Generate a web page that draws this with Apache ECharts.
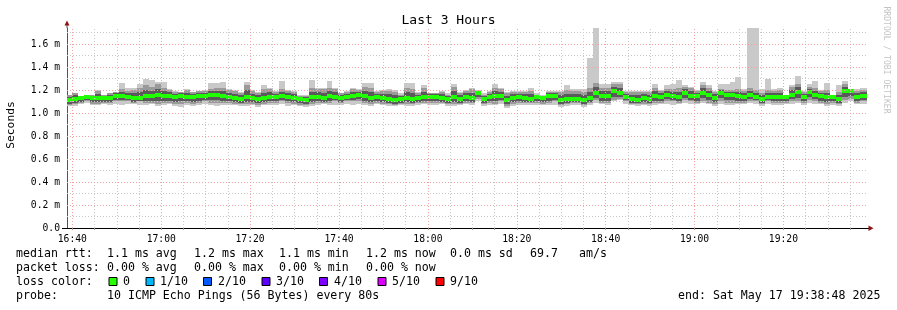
<!DOCTYPE html>
<html><head><meta charset="utf-8">
<script src="https://cdn.jsdelivr.net/npm/echarts@6/dist/echarts.min.js"></script>
<style>html,body{margin:0;padding:0;background:#fff}#c{width:897px;height:310px}</style>
</head><body><div id="c"></div>
<script>
// ---- data (milliseconds RTT, one column per 80 s step, start 16:38:48) ----
const startMin = 16*60 + 38.8;          // 16:38:48 in minutes since midnight
const endMin = 19*60 + 38.8;            // 19:38:48
const stepMin = 80/60;                  // 80 s probe step
const med = [
1.11,1.12,1.13,1.14,1.13,1.13,1.13,1.13,1.15,1.15,
1.14,1.13,1.13,1.15,1.15,1.16,1.15,1.15,1.14,1.15,
1.14,1.14,1.15,1.15,1.16,1.16,1.15,1.14,1.13,1.12,
1.14,1.13,1.12,1.13,1.14,1.14,1.15,1.14,1.13,1.12,
1.11,1.14,1.14,1.13,1.15,1.14,1.13,1.14,1.15,1.16,
1.15,1.13,1.14,1.13,1.12,1.11,1.12,1.13,1.12,1.13,
1.14,1.14,1.14,1.13,1.12,1.14,1.12,1.14,1.13,1.17,
1.12,1.14,1.15,1.15,1.11,1.13,1.14,1.13,1.12,1.14,
1.13,1.15,1.15,1.11,1.12,1.12,1.12,1.11,1.13,1.17,
1.15,1.15,1.19,1.17,1.14,1.12,1.11,1.13,1.12,1.15,
1.14,1.16,1.15,1.14,1.17,1.15,1.15,1.17,1.16,1.13,
1.17,1.16,1.16,1.15,1.14,1.16,1.14,1.12,1.14,1.14,
1.14,1.14,1.16,1.18,1.14,1.18,1.16,1.15,1.14,1.14,
1.12,1.19,1.19,1.14,1.15,1.15];
const lo = [
1.06,1.06,1.08,1.09,1.07,1.07,1.08,1.07,1.08,1.07,
1.08,1.08,1.07,1.07,1.08,1.06,1.07,1.08,1.06,1.05,
1.07,1.06,1.07,1.08,1.07,1.06,1.07,1.07,1.07,1.06,
1.06,1.07,1.05,1.07,1.07,1.07,1.08,1.06,1.07,1.06,
1.05,1.06,1.07,1.08,1.07,1.07,1.07,1.08,1.07,1.08,
1.07,1.06,1.08,1.07,1.06,1.06,1.07,1.06,1.06,1.07,
1.08,1.07,1.07,1.08,1.06,1.06,1.07,1.08,1.07,1.10,
1.06,1.07,1.07,1.08,1.04,1.06,1.07,1.07,1.07,1.07,
1.07,1.07,1.07,1.05,1.06,1.07,1.07,1.05,1.07,1.09,
1.08,1.07,1.10,1.11,1.08,1.07,1.06,1.07,1.06,1.07,
1.08,1.08,1.07,1.08,1.09,1.08,1.08,1.09,1.08,1.06,
1.08,1.07,1.07,1.08,1.08,1.09,1.08,1.06,1.08,1.07,
1.07,1.08,1.08,1.09,1.07,1.09,1.08,1.08,1.06,1.07,
1.06,1.09,1.10,1.08,1.08,1.08];
const hi = [
1.16,1.17,1.15,1.15,1.16,1.20,1.16,1.17,1.18,1.26,
1.22,1.22,1.25,1.30,1.29,1.27,1.27,1.21,1.19,1.18,
1.21,1.18,1.19,1.20,1.26,1.26,1.27,1.21,1.20,1.18,
1.27,1.20,1.18,1.24,1.22,1.19,1.28,1.20,1.19,1.16,
1.16,1.29,1.22,1.22,1.28,1.22,1.17,1.19,1.22,1.21,
1.26,1.26,1.19,1.20,1.21,1.20,1.17,1.26,1.26,1.18,
1.24,1.17,1.17,1.19,1.17,1.25,1.18,1.20,1.22,1.20,
1.17,1.19,1.25,1.22,1.18,1.19,1.19,1.19,1.22,1.17,
1.16,1.19,1.19,1.19,1.24,1.21,1.21,1.21,1.48,1.76,
1.25,1.25,1.27,1.27,1.19,1.19,1.19,1.19,1.19,1.25,
1.20,1.24,1.25,1.29,1.24,1.23,1.20,1.27,1.24,1.19,
1.25,1.25,1.27,1.31,1.21,1.76,1.76,1.21,1.30,1.21,
1.22,1.15,1.24,1.32,1.19,1.25,1.28,1.20,1.26,1.16,
1.24,1.28,1.21,1.21,1.22,1.22];
const dlo = [
1.07,1.08,1.09,1.10,1.08,1.08,1.09,1.09,1.10,1.10,
1.10,1.09,1.10,1.09,1.09,1.08,1.09,1.09,1.08,1.08,
1.09,1.08,1.09,1.10,1.09,1.09,1.09,1.09,1.08,1.08,
1.08,1.08,1.07,1.08,1.09,1.09,1.10,1.09,1.08,1.07,
1.07,1.08,1.09,1.09,1.09,1.10,1.09,1.10,1.10,1.10,
1.09,1.08,1.09,1.08,1.08,1.07,1.08,1.08,1.08,1.09,
1.09,1.09,1.09,1.09,1.08,1.08,1.08,1.09,1.09,1.12,
1.08,1.09,1.08,1.10,1.06,1.08,1.09,1.09,1.09,1.09,
1.08,1.09,1.10,1.07,1.08,1.09,1.09,1.07,1.09,1.11,
1.09,1.09,1.11,1.12,1.10,1.08,1.08,1.08,1.08,1.09,
1.09,1.10,1.10,1.09,1.11,1.10,1.09,1.10,1.09,1.08,
1.10,1.09,1.09,1.09,1.09,1.10,1.10,1.08,1.10,1.09,
1.09,1.09,1.10,1.10,1.09,1.11,1.10,1.09,1.08,1.09,
1.08,1.11,1.12,1.09,1.10,1.10];
const dhi = [
1.16,1.17,1.15,1.15,1.16,1.19,1.16,1.17,1.18,1.21,
1.19,1.20,1.22,1.24,1.23,1.25,1.22,1.20,1.18,1.18,
1.20,1.18,1.19,1.19,1.21,1.22,1.22,1.20,1.19,1.17,
1.24,1.19,1.17,1.21,1.21,1.18,1.21,1.19,1.18,1.15,
1.15,1.22,1.21,1.21,1.22,1.21,1.17,1.18,1.21,1.20,
1.23,1.22,1.18,1.19,1.19,1.18,1.16,1.22,1.21,1.17,
1.22,1.17,1.17,1.18,1.16,1.23,1.17,1.19,1.21,1.19,
1.16,1.18,1.22,1.21,1.17,1.18,1.18,1.18,1.19,1.16,
1.15,1.18,1.18,1.18,1.20,1.19,1.19,1.18,1.22,1.26,
1.22,1.22,1.25,1.25,1.18,1.18,1.18,1.18,1.18,1.22,
1.19,1.21,1.21,1.22,1.23,1.22,1.19,1.24,1.22,1.18,
1.21,1.20,1.20,1.21,1.19,1.22,1.20,1.17,1.20,1.19,
1.20,1.15,1.23,1.25,1.18,1.23,1.22,1.19,1.20,1.15,
1.18,1.25,1.21,1.19,1.20,1.20];
const yTicks = [0,0.2,0.4,0.6,0.8,1.0,1.2,1.4,1.6];
const yMinor = [0.1,0.3,0.5,0.7,0.9,1.1,1.3,1.5,1.7];
const xMajor = [1000,1020,1040,1060,1080,1100,1120,1140,1160]; // 16:40 .. 19:20
const xMinor = [];
for (let m = 1005; m <= 1175; m += 5) if (m % 20 !== 0) xMinor.push(m);
const xTickAll = [];
for (let m = 1000; m <= 1175; m += 5) xTickAll.push(m);
const lossColors = [['0','#26ff00'],['1/10','#00b8ff'],['2/10','#0059ff'],['3/10','#5e00ff'],['4/10','#7e00ff'],['5/10','#dd00ff'],['9/10','#ff0000']];

// ---- build ----
const yMax = 200/115;
const rows = med.map((m,k) => [startMin + (k-0.2)*stepMin, startMin + (k+0.8)*stepMin, m, lo[k], hi[k], dlo[k], dhi[k]]);
const FONT = 'DejaVu Sans Mono';
const hhmm = v => { const h = Math.floor(v/60), m = Math.round(v - h*60); return String(h).padStart(2,'0')+':'+String(m).padStart(2,'0'); };

function renderItem(params, api) {
  const cs = params.coordSys;
  const clip = {x: cs.x, y: cs.y, width: cs.width, height: cs.height};
  const x0 = Math.round(api.coord([api.value(0), 0])[0]);
  const x1 = Math.round(api.coord([api.value(1), 0])[0]);
  const py = v => Math.round(api.coord([api.value(0), v])[1]);
  const pm = py(api.value(2)), pLo = py(api.value(3)), pHi = py(api.value(4)), pDlo = py(api.value(5)), pDhi = py(api.value(6));
  const rect = (ya, yb, color) => {
    const r = echarts.graphic.clipRectByRect({x: x0, y: Math.min(ya,yb), width: x1-x0, height: Math.abs(yb-ya)}, clip);
    return r ? {type:'rect', shape: r, style:{fill: color}} : null;
  };
  const coreTop = Math.round((pDhi+pm)/2) - 1;
  const coreBot = Math.round((pDlo+pm)/2) + 1;
  const ch = [
    rect(pHi, pLo, '#c9c9c9'),
    rect(pDhi, pDlo, '#9a9a9a'),
    rect(Math.max(pDhi, coreTop), Math.min(pDlo, coreBot), '#5a5a5a'),
    rect(pm-2, pm+2, '#20ff00')
  ].filter(Boolean);
  return {type:'group', children: ch};
}

const grayDot = {color:'#c8c8c8', type:[1,2], width:1};
const redDot = {color:'#f2a0a0', type:[1,2], width:1};
const ml = (arr, axis, style) => arr.map(v => ({[axis]: v, lineStyle: style}));

const chart = echarts.init(document.getElementById('c'), null, {renderer:'canvas'});
chart.setOption({
  backgroundColor:'#ffffff',
  animation:false,
  title:{text:'Last 3 Hours', left:'center', top:9, textStyle:{fontFamily:FONT, fontSize:13, fontWeight:'normal', color:'#000'}},
  grid:{left:67, right:30, top:28, bottom:82},
  xAxis:{type:'value', min:startMin, max:endMin,
    axisLine:{show:true, lineStyle:{color:'#000', width:1}},
    axisTick:{show:true, customValues:xTickAll, length:2, lineStyle:{color:'#999'}},
    axisLabel:{customValues:xMajor, formatter:hhmm, margin:6, fontFamily:FONT, fontSize:9.7, color:'#000'},
    splitLine:{show:false}},
  yAxis:{type:'value', min:0, max:yMax,
    axisLine:{show:true, lineStyle:{color:'#555', width:1}},
    axisTick:{show:false},
    axisLabel:{customValues:yTicks, formatter: v => v === 0 ? '0.0' : v.toFixed(1)+' m', margin:7, fontFamily:FONT, fontSize:9.7, color:'#000'},
    splitLine:{show:false}},
  series:[
    {type:'line', data:[], silent:true, z:1,
      markLine:{silent:true, symbol:['none','none'], label:{show:false}, animation:false,
        data:[].concat(ml(xMinor,'xAxis',grayDot), ml(yMinor,'yAxis',grayDot), ml(xMajor,'xAxis',redDot), ml(yTicks.filter(v=>v>0),'yAxis',redDot))}},
    {type:'custom', z:2, data:rows, renderItem:renderItem, encode:{x:[0,1], y:[3,4]}, silent:true}
  ]
});

// ---- decorations & legend text ----
const tl = chart.convertToPixel({gridIndex:0}, [startMin, yMax]);
const br = chart.convertToPixel({gridIndex:0}, [endMin, 0]);
const AR = '#8e1414';
const T = (x, y, text, opt) => Object.assign({type:'text', x:x, y:y, style:Object.assign({text:text, fontFamily:FONT, fontSize:11.6, fill:'#000', verticalAlign:'middle', align:'left'}, opt||{})});
const g = [];
g.push({type:'line', shape:{x1:tl[0], y1:tl[1], x2:tl[0], y2:tl[1]-3}, style:{stroke:'#555', lineWidth:1}});
g.push({type:'line', shape:{x1:tl[0]-5, y1:br[1]+0.5, x2:tl[0], y2:br[1]+0.5}, style:{stroke:'#000', lineWidth:1}});
g.push({type:'line', shape:{x1:br[0], y1:br[1]+0.5, x2:br[0]+2, y2:br[1]+0.5}, style:{stroke:'#000', lineWidth:1}});
g.push({type:'polygon', shape:{points:[[tl[0]-2.5, tl[1]-2.5],[tl[0]+2.5, tl[1]-2.5],[tl[0], tl[1]-7.5]]}, style:{fill:AR}});
g.push({type:'polygon', shape:{points:[[br[0]+1.5, br[1]-2.5],[br[0]+1.5, br[1]+3],[br[0]+6.5, br[1]+0.25]]}, style:{fill:AR}});
g.push(T(11, 125, 'Seconds', {align:'center', fontSize:11.3}));
g[g.length-1].rotation = Math.PI/2;
g.push(T(886, 60, 'RRDTOOL / TOBI OETIKER', {align:'center', fontSize:8.1, fill:'#c4c4c4'}));
g[g.length-1].rotation = -Math.PI/2;
const L1 = 254, L2 = 268, L3 = 282, L4 = 296;
g.push(T(16, L1, 'median rtt:'), T(107, L1, '1.1 ms avg'), T(194, L1, '1.2 ms max'), T(279, L1, '1.1 ms min'), T(366, L1, '1.2 ms now'),
       T(450, L1, '0.0 ms sd'), T(530, L1, '69.7'), T(579, L1, 'am/s'));
g.push(T(16, L2, 'packet loss:'), T(107, L2, '0.00 % avg'), T(194, L2, '0.00 % max'), T(279, L2, '0.00 % min'), T(366, L2, '0.00 % now'));
g.push(T(16, L3, 'loss color:'));
const sqX = [108.5, 145.5, 203, 261.5, 319, 377.5, 435.5];
const lbX = [123, 160, 218, 276, 334, 392, 450];
lossColors.forEach((c,i) => {
  g.push({type:'rect', shape:{x:sqX[i]+0.5, y:L3-4.5, width:8, height:8}, style:{fill:c[1], stroke:'#000', lineWidth:1}});
  g.push(T(lbX[i], L3, c[0]));
});
g.push(T(16, L4, 'probe:'), T(107, L4, '10 ICMP Echo Pings (56 Bytes) every 80s'), T(678, L4, 'end: Sat May 17 19:38:48 2025'));
chart.setOption({graphic: g});
</script></body></html>
